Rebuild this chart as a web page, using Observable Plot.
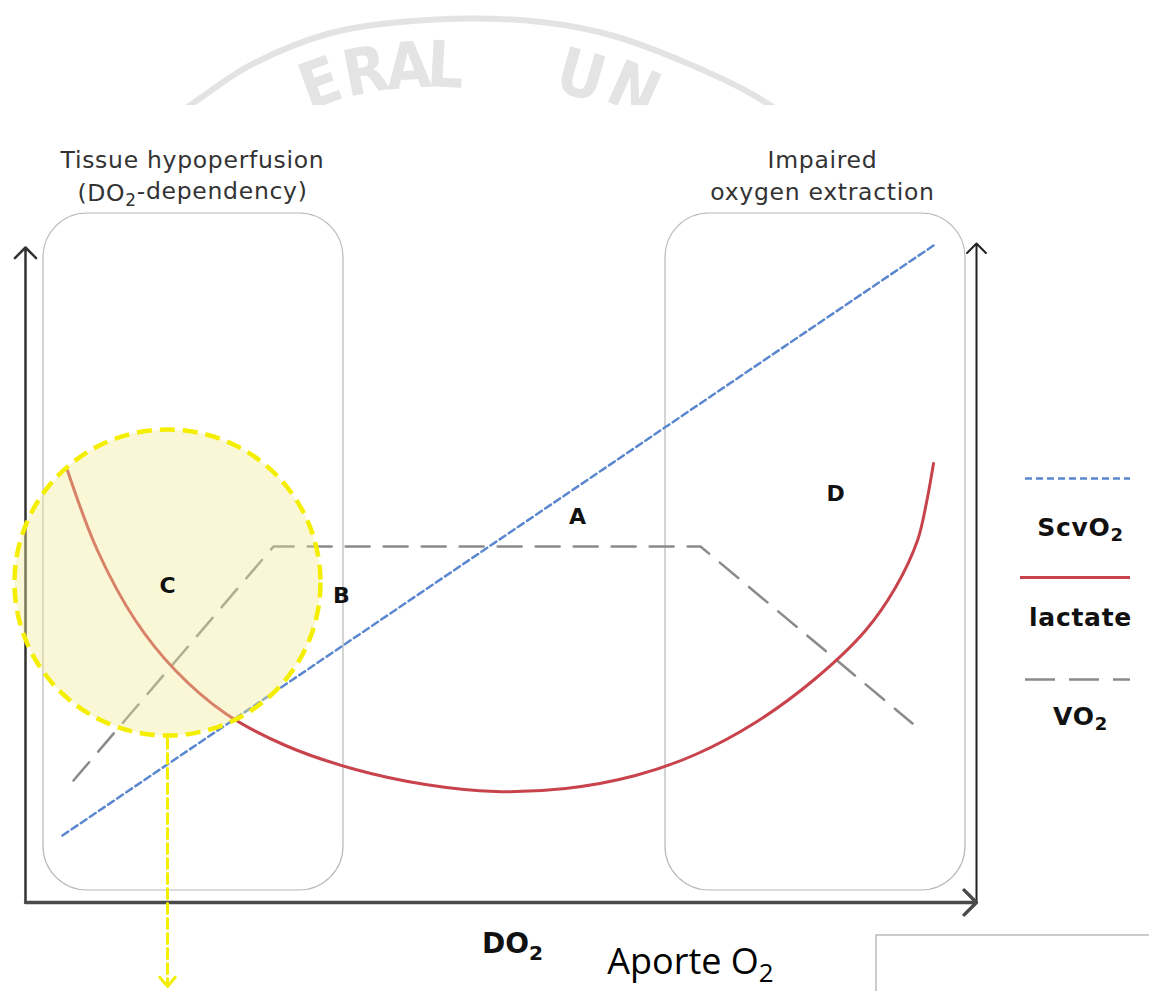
<!DOCTYPE html>
<html>
<head>
<meta charset="utf-8">
<script src="https://cdn.jsdelivr.net/npm/d3@7"></script>
<script src="https://cdn.jsdelivr.net/npm/@observablehq/plot@0.6"></script>
<style>
  html, body { margin: 0; padding: 0; background: #fff; overflow: hidden; }
  #chart svg { display: block; }
  .wide text { letter-spacing: 0.7px; }
</style>
</head>
<body>
<div id="chart"></div>
<script>
// Diagram units: origin at the corner of the axes, x = DO2 (rightwards), y = level (upwards).

// Oxygen-delivery curves
const scvo2X = [37, 908];
const scvo2Y = [67, 657];

const vo2X = [48, 248, 675, 887];
const vo2Y = [122, 356, 356, 179];

const lactateX = [42, 72, 110, 150, 200, 260, 330, 400, 470, 540, 610, 670, 730, 790, 840, 870, 892, 901, 908];
const lactateY = [432, 352, 282, 232, 189, 157, 133, 118, 111, 114, 127, 148, 180, 224, 272, 315, 362, 400, 439];

// Zones
const zoneNames = ["hypoperfusion", "extraction"];
const zoneX1 = [18, 640];
const zoneX2 = [318, 940];
const zoneY1 = [12, 12];
const zoneY2 = [689, 689];
const zoneTitles = [["Tissue hypoperfusion", "(DO₂-dependency)"], ["Impaired", "oxygen extraction"]];
const zoneTitleX = [167, 797];
const zoneTitleY = [[742, 709], [742, 710]];

// Point labels
const pointLabels = ["A", "B", "C", "D"];
const pointX = [552, 316, 142, 810];
const pointY = [386, 307, 317, 409];

// Legend
const legendNames = ["ScvO₂", "lactate", "VO₂"];
const legendColors = ["#5a87cf", "#c8434c", "#8a8a8a"];
const legendDash = ["7,4", null, "30,14"];
const legendLineX = [[1000, 1105], [995, 1105], [1000, 1105]];
const legendLineY = [424, 325, 223];
const legendTextX = [1055, 1055, 1055];
const legendTextY = [375, 285, 186];

// Highlighted region
const highlightX = [142];
const highlightY = [320];
const highlightArrowY = [164, -84];

// Axes
const axisLeft = {x: 0, y1: 0, y2: 655};
const axisBottom = {y: 0, x1: 0, x2: 951};
const axisRight = {x: 951, y1: 0, y2: 659};

// Faint seal behind the figure
const sealX = [150, 190, 230, 300, 370, 445, 520, 590, 660, 720, 760];
const sealY = [787, 815, 840, 868, 880, 884, 880, 866, 840, 812, 787];
const sealLetters = ["E", "R", "A", "L", "U", "N"];
const sealLX = [295, 340, 383, 420, 555, 608];
const sealLY = [818, 830, 835, 836, 826, 812];
const sealRot = [-20, -11, -4, 3, 16, 24];

const lactate = lactateX.map((x, i) => ({x, y: lactateY[i]}));
const vo2 = vo2X.map((x, i) => ({x, y: vo2Y[i]}));
const scvo2 = scvo2X.map((x, i) => ({x, y: scvo2Y[i]}));
const seal = sealX.map((x, i) => ({x, y: sealY[i]}));
const sealText = sealLetters.map((t, i) => ({t, x: sealLX[i], y: sealLY[i], r: sealRot[i]}));
const zones = zoneNames.map((n, i) => ({n, x1: zoneX1[i], x2: zoneX2[i], y1: zoneY1[i], y2: zoneY2[i]}));
const zoneText = zoneTitles.flatMap((lines, i) => lines.map((t, j) => ({t, x: zoneTitleX[i], y: zoneTitleY[i][j]})));
const points = pointLabels.map((t, i) => ({t, x: pointX[i], y: pointY[i]}));
const legend = legendNames.map((n, i) => ({n, color: legendColors[i], dash: legendDash[i],
  x1: legendLineX[i][0], x2: legendLineX[i][1], y: legendLineY[i], tx: legendTextX[i], ty: legendTextY[i]}));

const font = "DejaVu Sans, sans-serif";

const chart = Plot.plot({
  width: 1149,
  height: 991,
  margin: 0,
  x: {domain: [-25, 1124], axis: null},
  y: {domain: [-89, 902], axis: null},
  marks: [
    // seal watermark, cut off by the figure sheet
    Plot.line(seal, {x: "x", y: "y", curve: "natural", stroke: "#e3e3e3", strokeWidth: 6}),
    Plot.text(sealText, {x: "x", y: "y", text: "t", rotate: "r", fontSize: 64, fontWeight: 600,
      fontFamily: "DejaVu Sans Condensed, DejaVu Sans, sans-serif", fill: "#e4e4e4"}),
    Plot.rect([{x1: -25, x2: 1124, y1: -89, y2: 797}], {x1: "x1", x2: "x2", y1: "y1", y2: "y2", fill: "white"}),

    // zone panels
    Plot.rect(zones, {x1: "x1", x2: "x2", y1: "y1", y2: "y2", rx: 44, ry: 44,
      fill: "none", stroke: "#b8b8b8", strokeWidth: 1.2}),
    Plot.text(zoneText, {x: "x", y: "y", text: "t", fontSize: 23.5, fontFamily: font, fill: "#333", className: "wide"}),

    // axes
    Plot.arrow([axisLeft], {x1: "x", x2: "x", y1: "y1", y2: "y2", stroke: "#333", strokeWidth: 2.5, headLength: 9, headAngle: 90}),
    Plot.arrow([axisRight], {x1: "x", x2: "x", y1: "y1", y2: "y2", stroke: "#222", strokeWidth: 2, headLength: 10, headAngle: 90}),
    Plot.arrow([axisBottom], {x1: "x1", x2: "x2", y1: "y", y2: "y", stroke: "#4a4a4a", strokeWidth: 3.5, headLength: 7.5, headAngle: 90}),

    // curves
    Plot.line(scvo2, {x: "x", y: "y", stroke: legendColors[0], strokeWidth: 2.5, strokeDasharray: "7,4"}),
    Plot.line(vo2, {x: "x", y: "y", stroke: legendColors[2], strokeWidth: 2.5, strokeDasharray: "24,14"}),
    Plot.line(lactate, {x: "x", y: "y", curve: "catmull-rom", stroke: legendColors[1], strokeWidth: 3}),

    // highlighted DO2-dependency region
    Plot.dot(highlightX.map((x, i) => ({x, y: highlightY[i]})), {x: "x", y: "y", r: 153,
      fill: "#f1ea96", fillOpacity: 0.38, stroke: "#f4ee00", strokeWidth: 4.5, strokeDasharray: "15,8"}),
    Plot.arrow([{x: highlightX[0], y1: highlightArrowY[0], y2: highlightArrowY[1]}],
      {x1: "x", x2: "x", y1: "y1", y2: "y2", stroke: "#f4ee00", strokeWidth: 3, strokeDasharray: "10,5",
       headLength: 6, headAngle: 80}),

    // point labels
    Plot.text(points, {x: "x", y: "y", text: "t", fontSize: 22, fontWeight: "bold", fontFamily: font, fill: "#111"}),

    // legend
    ...legend.map(d => Plot.ruleY([d], {x1: "x1", x2: "x2", y: "y", stroke: d.color, strokeWidth: d.dash ? 2.5 : 3,
      strokeDasharray: d.dash || undefined})),
    Plot.text(legend, {x: "tx", y: "ty", text: "n", fontSize: 25, fontWeight: "bold", fontFamily: font, fill: "#111", className: "wide"}),

    // axis title and caption
    Plot.text([{t: "DO₂", x: 487, y: -42}], {x: "x", y: "y", text: "t", fontSize: 28, fontWeight: "bold", fontFamily: font, fill: "#111"}),
    Plot.text([{t: "Aporte O₂", x: 665, y: -60}], {x: "x", y: "y", text: "t", fontSize: 36, fontFamily: "Open Sans, sans-serif", fill: "#000"}),

    // empty frame at the bottom right
    Plot.rect([{x1: 851, x2: 1140, y1: -120, y2: -33}], {x1: "x1", x2: "x2", y1: "y1", y2: "y2",
      fill: "white", stroke: "#aaa", strokeWidth: 1.2})
  ]
});

// Render the "₂" in chemical formulas as a lowered, smaller digit
d3.select(chart).selectAll("text").each(function() {
  if (this.children.length || !this.textContent.includes("₂")) return;
  const parts = this.textContent.split("₂");
  const sel = d3.select(this).text(null);
  parts.forEach((p, i) => {
    if (i > 0) {
      sel.append("tspan").attr("dy", "0.3em").attr("font-size", "72%").text("2");
      sel.append("tspan").attr("dy", "-0.3em").text(p);
    } else {
      sel.append("tspan").text(p);
    }
  });
});

document.getElementById("chart").appendChild(chart);
</script>
</body>
</html>
